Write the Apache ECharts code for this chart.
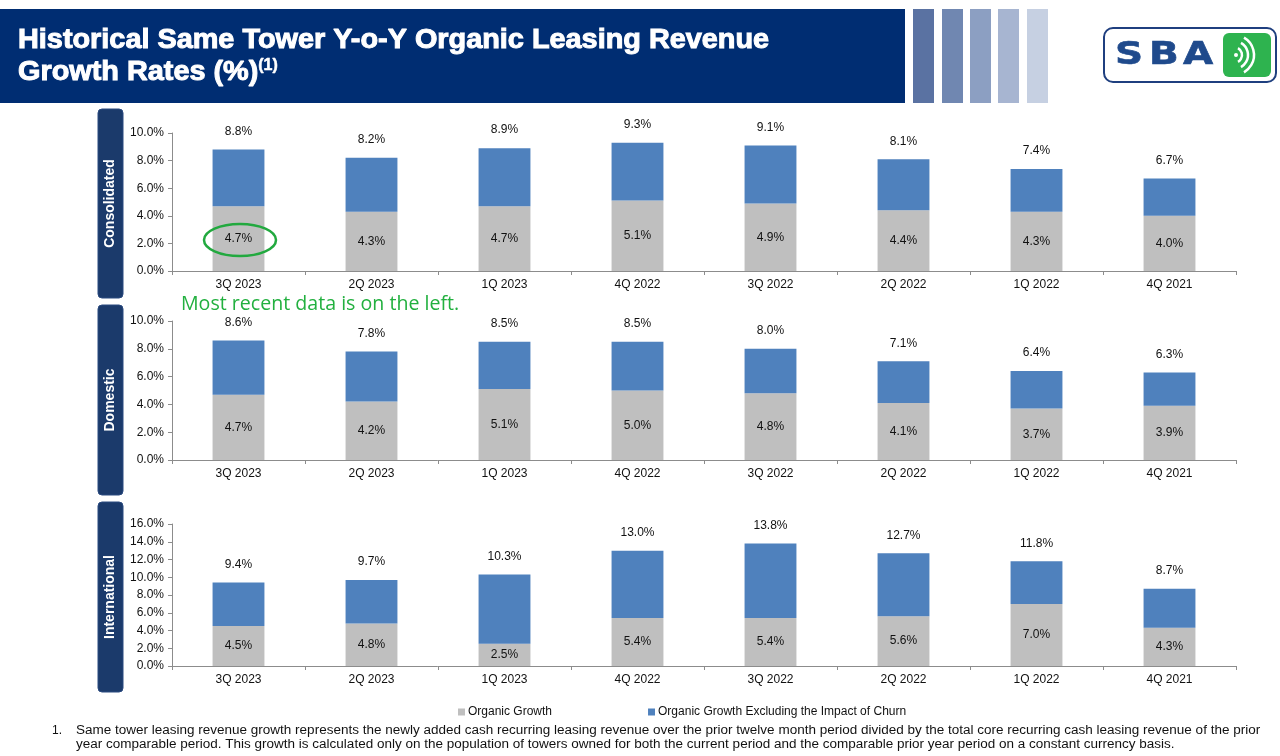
<!DOCTYPE html>
<html>
<head>
<meta charset="utf-8">
<script src="https://cdn.jsdelivr.net/npm/echarts@6/dist/echarts.min.js"></script>
<style>
html,body{margin:0;padding:0;background:#fff;}
#c{width:1280px;height:756px;}
</style>
</head>
<body>
<div id="c"></div>
<script>
const categories = ['3Q 2023','2Q 2023','1Q 2023','4Q 2022','3Q 2022','2Q 2022','1Q 2022','4Q 2021'];
const consolidatedTotal   = [8.8, 8.2, 8.9, 9.3, 9.1, 8.1, 7.4, 6.7];
const consolidatedOrganic = [4.7, 4.3, 4.7, 5.1, 4.9, 4.4, 4.3, 4.0];
const domesticTotal   = [8.6, 7.8, 8.5, 8.5, 8.0, 7.1, 6.4, 6.3];
const domesticOrganic = [4.7, 4.2, 5.1, 5.0, 4.8, 4.1, 3.7, 3.9];
const internationalTotal   = [9.4, 9.7, 10.3, 13.0, 13.8, 12.7, 11.8, 8.7];
const internationalOrganic = [4.5, 4.8, 2.5, 5.4, 5.4, 5.6, 7.0, 4.3];
const panelNames = ['Consolidated','Domestic','International'];
const seriesNames = ['Organic Growth','Organic Growth Excluding the Impact of Churn'];

const FONT = '"Liberation Sans", Arial, sans-serif';
const GRAY = '#BFBFBF', BLUE = '#4F81BD', NAVY = '#002D72';

const panels = [
  {total: consolidatedTotal, organic: consolidatedOrganic, top:133, height:138, max:10, box:[109,298]},
  {total: domesticTotal, organic: domesticOrganic, top:321, height:139, max:10, box:[305,495]},
  {total: internationalTotal, organic: internationalOrganic, top:524, height:142, max:16, box:[502,692]}
];

const grids = [], xAxes = [], yAxes = [], series = [];
panels.forEach((p, i) => {
  grids.push({left:172, top:p.top, width:1064, height:p.height});
  xAxes.push({
    type:'category', gridIndex:i, data:categories,
    axisLine:{lineStyle:{color:'#8C8C8C', width:1}},
    axisTick:{show:true, length:4, lineStyle:{color:'#8C8C8C'}},
    axisLabel:{color:'#111', fontFamily:FONT, fontSize:12, margin:8}
  });
  yAxes.push({
    type:'value', gridIndex:i, min:0, max:p.max, interval:2,
    axisLine:{show:true, lineStyle:{color:'#8C8C8C'}},
    axisTick:{show:true, length:4, lineStyle:{color:'#8C8C8C'}},
    splitLine:{show:false},
    axisLabel:{color:'#111', fontFamily:FONT, fontSize:12, margin:8,
      formatter: v => v.toFixed(1) + '%'}
  });
  series.push({
    name: seriesNames[0], type:'bar', stack:'s'+i, xAxisIndex:i, yAxisIndex:i,
    barWidth:'39%', data: p.organic,
    itemStyle:{color:GRAY},
    label:{show:true, position:'inside', color:'#111', fontFamily:FONT, fontSize:12,
      formatter: d => p.organic[d.dataIndex].toFixed(1) + '%'}
  });
  series.push({
    name: seriesNames[1], type:'bar', stack:'s'+i, xAxisIndex:i, yAxisIndex:i,
    barWidth:'39%', data: p.total.map((t, k) => +(t - p.organic[k]).toFixed(1)),
    itemStyle:{color:BLUE},
    label:{show:true, position:'top', distance:12, color:'#111', fontFamily:FONT, fontSize:12,
      formatter: d => p.total[d.dataIndex].toFixed(1) + '%'}
  });
});

const titleStyle = {fill:'#fff', stroke:'#fff', lineWidth:1, font:'bold 28px ' + FONT, textVerticalAlign:'middle'};
const graphics = [
  {type:'rect', shape:{x:0, y:9, width:905, height:94}, style:{fill:NAVY}, z:0},
  {type:'text', x:18, y:40, scaleX:1.03, style:Object.assign({text:'Historical Same Tower Y-o-Y Organic Leasing Revenue'}, titleStyle)},
  {type:'text', x:18, y:72, scaleX:1.03, style:Object.assign({text:'Growth Rates (%)'}, titleStyle)},
  {type:'text', left:258, top:57, style:{text:'(1)', fill:'#fff', stroke:'#fff', lineWidth:0.5, font:'bold 16px ' + FONT}},
];
const stripeX = [913, 942, 970, 998, 1027];
const stripeC = ['#5A72A2', '#7087B1', '#8C9FC2', '#A7B5D1', '#C6D0E2'];
stripeX.forEach((x, k) => graphics.push({type:'rect', shape:{x:x, y:9, width:21, height:94}, style:{fill:stripeC[k]}}));
// logo
graphics.push(
  {type:'rect', shape:{x:1104, y:28, width:172, height:54, r:9}, style:{fill:'#fff', stroke:'#1F3F7F', lineWidth:2}, z:1}
);
[['S', 1129], ['B', 1164], ['A', 1198]].forEach(([ch, cx]) => graphics.push(
  {type:'text', x:cx, y:56, scaleX:1.22, z:2,
    style:{text:ch, fill:'#1F4A8C', font:'bold 32px "DejaVu Sans", ' + FONT, textAlign:'center', textVerticalAlign:'middle',
      stroke:'#1F4A8C', lineWidth:0.6}}
));
graphics.push(
  {type:'rect', shape:{x:1223, y:33, width:48, height:44, r:6}, style:{fill:'#2EB34F'}, z:2},
  {type:'circle', shape:{cx:1236, cy:55, r:2}, style:{fill:'#fff'}, z:3},
  {type:'arc', shape:{cx:1234, cy:55, r:8, startAngle:-Math.PI/3, endAngle:Math.PI/3}, style:{stroke:'#fff', lineWidth:2.5, fill:null}, z:3},
  {type:'arc', shape:{cx:1234, cy:55, r:14, startAngle:-Math.PI/3, endAngle:Math.PI/3}, style:{stroke:'#fff', lineWidth:2.5, fill:null}, z:3},
  {type:'arc', shape:{cx:1234, cy:55, r:20, startAngle:-Math.PI/3, endAngle:Math.PI/3}, style:{stroke:'#fff', lineWidth:2.5, fill:null}, z:3}
);
// side boxes
panels.forEach((p, i) => {
  const y0 = p.box[0], y1 = p.box[1];
  graphics.push({type:'rect', shape:{x:98, y:y0, width:25, height:y1 - y0, r:4}, style:{fill:'#1B3A6B', stroke:'#2A4A80', lineWidth:1}});
  graphics.push({type:'text', x:110.5, y:(y0 + y1) / 2, rotation:Math.PI/2,
    style:{text:panelNames[i], fill:'#fff', font:'bold 14px ' + FONT, textAlign:'center', textVerticalAlign:'middle'}});
});
// annotation
graphics.push(
  {type:'ellipse', shape:{cx:240, cy:240, rx:36, ry:16}, style:{fill:null, stroke:'#22A93F', lineWidth:2.5}, z:10},
  {type:'text', left:181, top:294, style:{text:'Most recent data is on the left.', fill:'#22B03F', font:'19.6px "Open Sans", sans-serif'}}
);
// footnote
const FN = '12px ' + FONT;
const fnStyle = t => ({text:t, fill:'#111', font:FN, textVerticalAlign:'middle'});
graphics.push(
  {type:'text', x:52, y:731, style:fnStyle('1.')},
  {type:'text', x:76, y:731, scaleX:1.125, style:fnStyle('Same tower leasing revenue growth represents the newly added cash recurring leasing revenue over the prior twelve month period divided by the total core recurring cash leasing revenue of the prior')},
  {type:'text', x:76, y:745, scaleX:1.125, style:fnStyle('year comparable period. This growth is calculated only on the population of towers owned for both the current period and the comparable prior year period on a constant currency basis.')}
);

const chart = echarts.init(document.getElementById('c'));
chart.setOption({
  animation:false,
  backgroundColor:'#fff',
  grid:grids, xAxis:xAxes, yAxis:yAxes, series:series,
  legend:{left:453, top:701, itemWidth:7, itemHeight:7, itemGap:96, icon:'rect',
    data:seriesNames, textStyle:{fontFamily:FONT, fontSize:12, color:'#111', padding:[0,0,0,-2]}},
  graphic:graphics
});
</script>
</body>
</html>
